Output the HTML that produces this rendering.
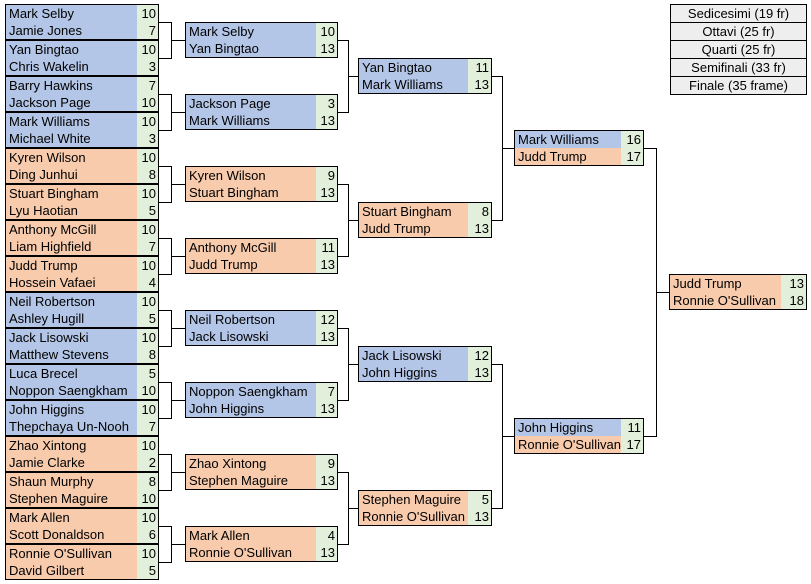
<!DOCTYPE html>
<html><head><meta charset="utf-8">
<style>
body{margin:0;width:811px;height:584px;background:#fff;position:relative;overflow:hidden;font-family:"Liberation Sans",sans-serif;font-size:13px;color:#000}
.b{position:absolute;border:1px solid #000;box-sizing:border-box}
.r{display:flex;height:17px;line-height:17px}
.n{flex:1;padding-left:3px;white-space:nowrap;overflow:hidden}
.s{background:#e2efda;text-align:right;padding-right:2px}
.bl{background:#b4c6e7}.or{background:#f8cbad}
.r1{left:5px;width:154px}.r1 .s{width:19px}
.r2{left:185px;width:153px}.r2 .s{width:19px}
.r3{left:358px;width:134px}.r3 .s{width:21px}
.r4{left:514px;width:130px}.r4 .s{width:20px}
.f{left:669px;width:138px}.f .s{width:23px}
.lg{position:absolute;left:670px;top:4px;width:137px;border:1px solid #000;box-sizing:border-box;background:#eeeeee}
.lg div{height:17px;line-height:17px;text-align:center;border-bottom:1px solid #000}
.lg div:last-child{border-bottom:none}
svg{position:absolute;left:0;top:0}
</style></head><body>
<svg width="811" height="584" fill="none" stroke="#000" stroke-width="1">
<path d="M159 22.5H171.5V58.5H159M171.5 40.5H185
M159 94.5H171.5V130.5H159M171.5 112.5H185
M159 166.5H171.5V202.5H159M171.5 184.5H185
M159 238.5H171.5V274.5H159M171.5 256.5H185
M159 310.5H171.5V346.5H159M171.5 328.5H185
M159 382.5H171.5V418.5H159M171.5 400.5H185
M159 454.5H171.5V490.5H159M171.5 472.5H185
M159 526.5H171.5V562.5H159M171.5 544.5H185
M338 40.5H348.5V112.5H338M348.5 76.5H358
M338 184.5H348.5V256.5H338M348.5 220.5H358
M338 328.5H348.5V400.5H338M348.5 364.5H358
M338 472.5H348.5V544.5H338M348.5 508.5H358
M492 76.5H502.5V220.5H492M502.5 148.5H514
M492 364.5H502.5V508.5H492M502.5 436.5H514
M644 148.5H656.5V436.5H644M656.5 292.5H669"/>
</svg>

<div class="b r1 bl" style="top:4px"><div class="r"><span class="n">Mark Selby</span><span class="s">10</span></div><div class="r"><span class="n">Jamie Jones</span><span class="s">7</span></div></div>
<div class="b r1 bl" style="top:40px"><div class="r"><span class="n">Yan Bingtao</span><span class="s">10</span></div><div class="r"><span class="n">Chris Wakelin</span><span class="s">3</span></div></div>
<div class="b r1 bl" style="top:76px"><div class="r"><span class="n">Barry Hawkins</span><span class="s">7</span></div><div class="r"><span class="n">Jackson Page</span><span class="s">10</span></div></div>
<div class="b r1 bl" style="top:112px"><div class="r"><span class="n">Mark Williams</span><span class="s">10</span></div><div class="r"><span class="n">Michael White</span><span class="s">3</span></div></div>
<div class="b r1 or" style="top:148px"><div class="r"><span class="n">Kyren Wilson</span><span class="s">10</span></div><div class="r"><span class="n">Ding Junhui</span><span class="s">8</span></div></div>
<div class="b r1 or" style="top:184px"><div class="r"><span class="n">Stuart Bingham</span><span class="s">10</span></div><div class="r"><span class="n">Lyu Haotian</span><span class="s">5</span></div></div>
<div class="b r1 or" style="top:220px"><div class="r"><span class="n">Anthony McGill</span><span class="s">10</span></div><div class="r"><span class="n">Liam Highfield</span><span class="s">7</span></div></div>
<div class="b r1 or" style="top:256px"><div class="r"><span class="n">Judd Trump</span><span class="s">10</span></div><div class="r"><span class="n">Hossein Vafaei</span><span class="s">4</span></div></div>
<div class="b r1 bl" style="top:292px"><div class="r"><span class="n">Neil Robertson</span><span class="s">10</span></div><div class="r"><span class="n">Ashley Hugill</span><span class="s">5</span></div></div>
<div class="b r1 bl" style="top:328px"><div class="r"><span class="n">Jack Lisowski</span><span class="s">10</span></div><div class="r"><span class="n">Matthew Stevens</span><span class="s">8</span></div></div>
<div class="b r1 bl" style="top:364px"><div class="r"><span class="n">Luca Brecel</span><span class="s">5</span></div><div class="r"><span class="n">Noppon Saengkham</span><span class="s">10</span></div></div>
<div class="b r1 bl" style="top:400px"><div class="r"><span class="n">John Higgins</span><span class="s">10</span></div><div class="r"><span class="n">Thepchaya Un-Nooh</span><span class="s">7</span></div></div>
<div class="b r1 or" style="top:436px"><div class="r"><span class="n">Zhao Xintong</span><span class="s">10</span></div><div class="r"><span class="n">Jamie Clarke</span><span class="s">2</span></div></div>
<div class="b r1 or" style="top:472px"><div class="r"><span class="n">Shaun Murphy</span><span class="s">8</span></div><div class="r"><span class="n">Stephen Maguire</span><span class="s">10</span></div></div>
<div class="b r1 or" style="top:508px"><div class="r"><span class="n">Mark Allen</span><span class="s">10</span></div><div class="r"><span class="n">Scott Donaldson</span><span class="s">6</span></div></div>
<div class="b r1 or" style="top:544px"><div class="r"><span class="n">Ronnie O'Sullivan</span><span class="s">10</span></div><div class="r"><span class="n">David Gilbert</span><span class="s">5</span></div></div>

<div class="b r2 bl" style="top:22px"><div class="r"><span class="n">Mark Selby</span><span class="s">10</span></div><div class="r"><span class="n">Yan Bingtao</span><span class="s">13</span></div></div>
<div class="b r2 bl" style="top:94px"><div class="r"><span class="n">Jackson Page</span><span class="s">3</span></div><div class="r"><span class="n">Mark Williams</span><span class="s">13</span></div></div>
<div class="b r2 or" style="top:166px"><div class="r"><span class="n">Kyren Wilson</span><span class="s">9</span></div><div class="r"><span class="n">Stuart Bingham</span><span class="s">13</span></div></div>
<div class="b r2 or" style="top:238px"><div class="r"><span class="n">Anthony McGill</span><span class="s">11</span></div><div class="r"><span class="n">Judd Trump</span><span class="s">13</span></div></div>
<div class="b r2 bl" style="top:310px"><div class="r"><span class="n">Neil Robertson</span><span class="s">12</span></div><div class="r"><span class="n">Jack Lisowski</span><span class="s">13</span></div></div>
<div class="b r2 bl" style="top:382px"><div class="r"><span class="n">Noppon Saengkham</span><span class="s">7</span></div><div class="r"><span class="n">John Higgins</span><span class="s">13</span></div></div>
<div class="b r2 or" style="top:454px"><div class="r"><span class="n">Zhao Xintong</span><span class="s">9</span></div><div class="r"><span class="n">Stephen Maguire</span><span class="s">13</span></div></div>
<div class="b r2 or" style="top:526px"><div class="r"><span class="n">Mark Allen</span><span class="s">4</span></div><div class="r"><span class="n">Ronnie O'Sullivan</span><span class="s">13</span></div></div>

<div class="b r3 bl" style="top:58px"><div class="r"><span class="n">Yan Bingtao</span><span class="s">11</span></div><div class="r"><span class="n">Mark Williams</span><span class="s">13</span></div></div>
<div class="b r3 or" style="top:202px"><div class="r"><span class="n">Stuart Bingham</span><span class="s">8</span></div><div class="r"><span class="n">Judd Trump</span><span class="s">13</span></div></div>
<div class="b r3 bl" style="top:346px"><div class="r"><span class="n">Jack Lisowski</span><span class="s">12</span></div><div class="r"><span class="n">John Higgins</span><span class="s">13</span></div></div>
<div class="b r3 or" style="top:490px"><div class="r"><span class="n">Stephen Maguire</span><span class="s">5</span></div><div class="r"><span class="n">Ronnie O'Sullivan</span><span class="s">13</span></div></div>

<div class="b r4" style="top:130px"><div class="r"><span class="n bl">Mark Williams</span><span class="s">16</span></div><div class="r"><span class="n or">Judd Trump</span><span class="s">17</span></div></div>
<div class="b r4" style="top:418px"><div class="r"><span class="n bl">John Higgins</span><span class="s">11</span></div><div class="r"><span class="n or">Ronnie O'Sullivan</span><span class="s">17</span></div></div>

<div class="b f or" style="top:274px"><div class="r"><span class="n">Judd Trump</span><span class="s">13</span></div><div class="r"><span class="n">Ronnie O'Sullivan</span><span class="s">18</span></div></div>

<div class="lg"><div>Sedicesimi (19 fr)</div><div>Ottavi (25 fr)</div><div>Quarti (25 fr)</div><div>Semifinali (33 fr)</div><div>Finale (35 frame)</div></div>
</body></html>
